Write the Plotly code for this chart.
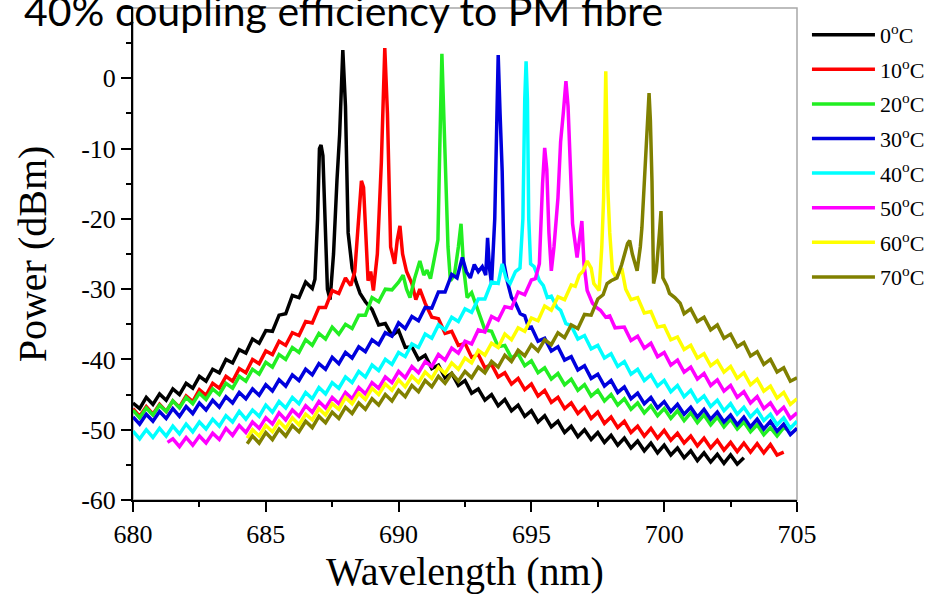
import plotly.graph_objects as go

# ---------------- data (wavelength nm, power dBm) ----------------
names = ["0<sup>o</sup>C", "10<sup>o</sup>C", "20<sup>o</sup>C", "30<sup>o</sup>C",
         "40<sup>o</sup>C", "50<sup>o</sup>C", "60<sup>o</sup>C", "70<sup>o</sup>C"]

t00 = [(680.0,-46.2),(680.25,-47.0),(680.5,-45.4),(680.75,-46.4),(681.0,-44.9),(681.25,-45.8),(681.5,-44.2),(681.75,-45.0),
       (682.0,-43.4),(682.25,-44.1),(682.5,-42.4),(682.75,-43.1),(683.0,-41.4),(683.25,-41.9),(683.5,-40.0),(683.75,-40.5),
       (684.0,-38.6),(684.25,-39.1),(684.5,-37.1),(684.75,-37.7),(685.0,-35.9),(685.25,-36.0),(685.5,-33.7),(685.75,-33.5),
       (686.0,-30.9),(686.25,-31.2),(686.5,-29.0),(686.75,-29.9),(686.85,-28.6),(686.95,-20.0),(687.02,-10.0),(687.08,-9.5),
       (687.15,-11.0),(687.22,-19.0),(687.32,-30.0),(687.42,-31.5),(687.55,-25.0),(687.68,-14.5),(687.78,-8.0),(687.9,4.0),
       (688.0,-4.0),(688.1,-22.0),(688.25,-27.0),(688.4,-29.0),(688.55,-30.6),(688.75,-31.8),(689.0,-32.9),(689.25,-35.1),
       (689.5,-34.9),(689.75,-36.6),(690.0,-35.9),(690.25,-38.3),(690.5,-38.2),(690.75,-40.0),(691.0,-39.4),(691.25,-41.3),
       (691.5,-40.8),(691.75,-42.6),(692.0,-42.0),(692.25,-43.7),(692.5,-43.0),(692.75,-44.8),(693.0,-44.2),(693.25,-45.8),
       (693.5,-45.0),(693.75,-46.6),(694.0,-45.7),(694.25,-47.3),(694.5,-46.5),(694.75,-48.1),(695.0,-47.3),(695.25,-48.9),
       (695.5,-48.0),(695.75,-49.6),(696.0,-48.8),(696.25,-50.4),(696.5,-49.5),(696.75,-51.0),(697.0,-50.0),(697.25,-51.4),
       (697.5,-50.4),(697.75,-51.8),(698.0,-50.8),(698.25,-52.2),(698.5,-51.2),(698.75,-52.6),(699.0,-51.6),(699.25,-53.0),
       (699.5,-51.9),(699.75,-53.3),(700.0,-52.2),(700.25,-53.6),(700.5,-52.6),(700.75,-54.0),(701.0,-53.0),(701.25,-54.4),
       (701.5,-53.3),(701.75,-54.6),(702.0,-53.5),(702.25,-54.8),(702.5,-53.6),(702.75,-54.9),(703.0,-54.0)]

t10 = [(680.0,-47.0),(680.25,-48.1),(680.5,-46.7),(680.75,-47.8),(681.0,-46.4),(681.25,-47.4),(681.5,-45.9),(681.75,-46.8),
       (682.0,-45.2),(682.25,-46.0),(682.5,-44.3),(682.75,-45.1),(683.0,-43.4),(683.25,-44.1),(683.5,-42.4),(683.75,-43.1),
       (684.0,-41.3),(684.25,-41.9),(684.5,-40.0),(684.75,-40.6),(685.0,-38.8),(685.25,-39.3),(685.5,-37.4),(685.75,-38.0),
       (686.0,-36.2),(686.25,-36.6),(686.5,-34.6),(686.75,-34.8),(687.0,-32.6),(687.25,-32.6),(687.5,-30.2),(687.75,-30.6),
       (688.0,-28.4),(688.2,-29.5),(688.35,-27.5),(688.5,-20.0),(688.6,-14.6),(688.68,-15.5),(688.75,-22.0),(688.85,-28.8),
       (688.95,-27.5),(689.05,-30.2),(689.2,-25.0),(689.35,-12.0),(689.48,4.3),(689.58,-5.0),(689.7,-24.0),(689.85,-26.4),
       (689.95,-23.0),(690.05,-21.0),(690.15,-25.0),(690.3,-27.5),(690.5,-29.2),(690.65,-31.5),(690.8,-30.0),(691.0,-32.0),
       (691.25,-34.0),(691.5,-34.2),(691.75,-36.3),(692.0,-36.0),(692.25,-38.0),(692.5,-37.7),(692.75,-39.7),(693.0,-39.3),
       (693.25,-41.2),(693.5,-40.7),(693.75,-42.5),(694.0,-41.9),(694.25,-43.5),(694.5,-42.7),(694.75,-44.3),(695.0,-43.5),
       (695.25,-45.2),(695.5,-44.4),(695.75,-46.1),(696.0,-45.4),(696.25,-47.0),(696.5,-46.2),(696.75,-47.7),(697.0,-46.8),
       (697.25,-48.4),(697.5,-47.5),(697.75,-49.1),(698.0,-48.2),(698.25,-49.7),(698.5,-48.8),(698.75,-50.4),(699.0,-49.5),
       (699.25,-50.9),(699.5,-49.8),(699.75,-51.2),(700.0,-50.1),(700.25,-51.5),(700.5,-50.5),(700.75,-51.9),(701.0,-50.9),
       (701.25,-52.3),(701.5,-51.2),(701.75,-52.6),(702.0,-51.5),(702.25,-52.9),(702.5,-51.8),(702.75,-53.1),(703.0,-51.9),
       (703.25,-53.2),(703.5,-52.0),(703.75,-53.3),(704.0,-52.1),(704.25,-53.6),(704.5,-53.2)]

t20 = [(680.0,-47.2),(680.25,-48.3),(680.5,-46.9),(680.75,-47.9),(681.0,-46.5),(681.25,-47.4),(681.5,-45.9),(681.75,-46.9),
       (682.0,-45.4),(682.25,-46.3),(682.5,-44.8),(682.75,-45.7),(683.0,-44.2),(683.25,-45.0),(683.5,-43.4),(683.75,-44.1),
       (684.0,-42.4),(684.25,-43.1),(684.5,-41.4),(684.75,-42.1),(685.0,-40.4),(685.25,-41.1),(685.5,-39.3),(685.75,-40.0),
       (686.0,-38.3),(686.25,-39.0),(686.5,-37.2),(686.75,-38.0),(687.0,-36.3),(687.25,-37.1),(687.5,-35.4),(687.75,-36.4),
       (688.0,-35.0),(688.25,-35.6),(688.5,-33.7),(688.75,-33.7),(689.0,-31.2),(689.25,-31.8),(689.5,-30.0),(689.75,-30.1),
       (690.0,-29.0),(690.17,-28.0),(690.3,-30.0),(690.43,-31.2),(690.6,-28.5),(690.8,-26.0),(690.95,-28.0),(691.07,-27.3),
       (691.2,-28.5),(691.37,-25.0),(691.48,-23.0),(691.55,-10.0),(691.63,3.5),(691.7,-5.0),(691.78,-15.6),(691.86,-24.0),
       (691.95,-28.8),(692.1,-28.0),(692.25,-24.0),(692.35,-20.7),(692.45,-27.0),(692.58,-31.2),(692.75,-30.5),(692.95,-32.5),
       (693.25,-35.8),(693.5,-36.0),(693.75,-38.2),(694.0,-38.0),(694.25,-39.8),(694.5,-39.2),(694.75,-40.9),(695.0,-40.2),
       (695.25,-41.9),(695.5,-41.2),(695.75,-42.8),(696.0,-42.0),(696.25,-43.6),(696.5,-42.8),(696.75,-44.4),(697.0,-43.6),
       (697.25,-45.2),(697.5,-44.4),(697.75,-45.9),(698.0,-45.0),(698.25,-46.5),(698.5,-45.6),(698.75,-47.1),(699.0,-46.2),
       (699.25,-47.6),(699.5,-46.6),(699.75,-48.0),(700.0,-47.0),(700.25,-48.4),(700.5,-47.3),(700.75,-48.7),(701.0,-47.6),
       (701.25,-49.0),(701.5,-47.9),(701.75,-49.3),(702.0,-48.2),(702.25,-49.6),(702.5,-48.5),(702.75,-49.9),(703.0,-48.9),
       (703.25,-50.3),(703.5,-49.3),(703.75,-50.7),(704.0,-49.7),(704.25,-50.9),(704.5,-49.7),(704.7,-50.1)]

t30 = [(680.0,-48.2),(680.25,-49.2),(680.5,-47.8),(680.75,-48.8),(681.0,-47.4),(681.25,-48.4),(681.5,-47.0),(681.75,-48.1),
       (682.0,-46.7),(682.25,-47.7),(682.5,-46.2),(682.75,-47.2),(683.0,-45.8),(683.25,-46.8),(683.5,-45.3),(683.75,-46.2),
       (684.0,-44.7),(684.25,-45.6),(684.5,-44.2),(684.75,-45.1),(685.0,-43.6),(685.25,-44.5),(685.5,-42.9),(685.75,-43.8),
       (686.0,-42.2),(686.25,-43.0),(686.5,-41.4),(686.75,-42.2),(687.0,-40.6),(687.25,-41.4),(687.5,-39.7),(687.75,-40.6),
       (688.0,-39.0),(688.25,-39.8),(688.5,-38.2),(688.75,-38.9),(689.0,-37.2),(689.25,-37.9),(689.5,-36.2),(689.75,-36.7),
       (690.0,-34.8),(690.25,-35.6),(690.5,-33.9),(690.75,-34.5),(691.0,-32.6),(691.25,-32.7),(691.5,-30.4),(691.75,-30.4),
       (692.0,-27.9),(692.2,-28.4),(692.4,-25.5),(692.55,-27.5),(692.7,-28.4),(692.85,-26.5),(693.0,-27.5),(693.15,-26.8),
       (693.28,-28.0),(693.35,-22.7),(693.42,-27.0),(693.5,-29.2),(693.62,-20.0),(693.7,-5.0),(693.75,3.3),(693.82,-5.0),
       (693.9,-13.2),(693.97,-26.4),(694.1,-29.0),(694.25,-31.2),(694.4,-32.0),(694.58,-33.5),(694.75,-33.8),(694.9,-35.5),
       (695.0,-35.4),(695.25,-37.4),(695.5,-37.0),(695.75,-38.8),(696.0,-38.2),(696.25,-40.1),(696.5,-39.6),(696.75,-41.5),
       (697.0,-40.9),(697.25,-42.7),(697.5,-42.1),(697.75,-43.8),(698.0,-43.0),(698.25,-44.7),(698.5,-43.9),(698.75,-45.6),
       (699.0,-44.8),(699.25,-46.3),(699.5,-45.4),(699.75,-46.9),(700.0,-46.0),(700.25,-47.4),(700.5,-46.4),(700.75,-47.8),
       (701.0,-46.8),(701.25,-48.2),(701.5,-47.1),(701.75,-48.5),(702.0,-47.5),(702.25,-48.9),(702.5,-47.9),(702.75,-49.3),
       (703.0,-48.2),(703.25,-49.6),(703.5,-48.5),(703.75,-49.9),(704.0,-48.8),(704.25,-50.2),(704.5,-49.2),(704.75,-50.7),
       (705.0,-49.8)]

t40 = [(680.0,-50.2),(680.25,-51.3),(680.5,-50.0),(680.75,-51.1),(681.0,-49.8),(681.25,-50.9),(681.5,-49.5),(681.75,-50.6),
       (682.0,-49.2),(682.25,-50.3),(682.5,-48.9),(682.75,-49.9),(683.0,-48.5),(683.25,-49.5),(683.5,-48.0),(683.75,-48.9),
       (684.0,-47.4),(684.25,-48.5),(684.5,-47.2),(684.75,-48.1),(685.0,-46.5),(685.25,-47.5),(685.5,-46.0),(685.75,-46.9),
       (686.0,-45.4),(686.25,-46.3),(686.5,-44.7),(686.75,-45.6),(687.0,-44.0),(687.25,-44.9),(687.5,-43.3),(687.75,-44.1),
       (688.0,-42.5),(688.25,-43.3),(688.5,-41.7),(688.75,-42.5),(689.0,-40.8),(689.25,-41.6),(689.5,-40.0),(689.75,-40.7),
       (690.0,-39.0),(690.25,-39.6),(690.5,-37.8),(690.75,-38.3),(691.0,-36.4),(691.25,-37.0),(691.5,-35.1),(691.75,-35.8),
       (692.0,-34.0),(692.25,-34.6),(692.5,-32.8),(692.75,-33.3),(693.0,-31.4),(693.25,-31.4),(693.5,-29.0),(693.75,-29.2),
       (693.9,-26.4),(694.05,-28.5),(694.2,-29.2),(694.4,-27.5),(694.57,-27.0),(694.68,-20.0),(694.75,-3.0),(694.8,2.4),
       (694.85,-3.0),(694.9,-20.0),(694.97,-26.4),(695.1,-26.8),(695.3,-28.8),(695.45,-29.5),(695.6,-31.2),(695.75,-31.0),
       (695.96,-32.6),(696.1,-33.0),(696.3,-34.9),(696.5,-35.2),(696.75,-37.1),(697.0,-36.6),(697.25,-38.5),(697.5,-38.0),
       (697.75,-39.8),(698.0,-39.2),(698.25,-41.0),(698.5,-40.3),(698.75,-42.1),(699.0,-41.4),(699.25,-43.0),(699.5,-42.2),
       (699.75,-43.8),(700.0,-43.0),(700.25,-44.6),(700.5,-43.7),(700.75,-45.3),(701.0,-44.4),(701.25,-46.0),(701.5,-45.2),
       (701.75,-46.7),(702.0,-45.8),(702.25,-47.3),(702.5,-46.3),(702.75,-47.8),(703.0,-46.8),(703.25,-48.2),(703.5,-47.2),
       (703.75,-48.7),(704.0,-47.8),(704.25,-49.3),(704.5,-48.3),(704.75,-49.8),(705.0,-48.8)]

t50 = [(681.3,-51.8),(681.5,-51.3),(681.75,-52.4),(682.0,-51.1),(682.25,-52.2),(682.5,-50.9),(682.75,-51.9),(683.0,-50.5),
       (683.25,-51.4),(683.5,-49.8),(683.75,-50.8),(684.0,-49.4),(684.25,-50.4),(684.5,-48.9),(684.75,-49.8),(685.0,-48.3),
       (685.25,-49.2),(685.5,-47.6),(685.75,-48.6),(686.0,-47.2),(686.25,-48.1),(686.5,-46.6),(686.75,-47.5),(687.0,-46.0),
       (687.25,-46.9),(687.5,-45.4),(687.75,-46.3),(688.0,-44.7),(688.25,-45.6),(688.5,-44.0),(688.75,-44.9),(689.0,-43.3),
       (689.25,-44.1),(689.5,-42.5),(689.75,-43.3),(690.0,-41.7),(690.25,-42.6),(690.5,-41.0),(690.75,-41.9),(691.0,-40.3),
       (691.25,-41.0),(691.5,-39.3),(691.75,-40.1),(692.0,-38.4),(692.25,-39.1),(692.5,-37.4),(692.75,-37.8),(693.0,-35.8),
       (693.25,-36.1),(693.5,-33.9),(693.75,-34.4),(694.0,-32.5),(694.25,-32.7),(694.5,-30.4),(694.75,-30.8),(695.0,-28.7),
       (695.15,-28.5),(695.3,-26.4),(695.42,-15.0),(695.5,-9.9),(695.58,-13.0),(695.66,-22.0),(695.75,-27.4),(695.85,-24.0),
       (696.0,-17.0),(696.1,-9.0),(696.2,-5.0),(696.3,-0.4),(696.38,-4.0),(696.45,-12.2),(696.55,-20.7),(696.72,-25.5),
       (696.82,-23.0),(696.9,-20.3),(696.98,-26.4),(697.1,-30.2),(697.3,-32.0),(697.45,-32.6),(697.6,-33.0),(697.8,-34.0),
       (697.95,-33.8),(698.15,-35.5),(698.5,-35.4),(698.75,-37.3),(699.0,-36.7),(699.25,-38.4),(699.5,-37.7),(699.75,-39.6),
       (700.0,-39.0),(700.25,-40.8),(700.5,-40.1),(700.75,-41.8),(701.0,-41.1),(701.25,-42.8),(701.5,-42.0),(701.75,-43.7),
       (702.0,-42.9),(702.25,-44.5),(702.5,-43.7),(702.75,-45.4),(703.0,-44.6),(703.25,-46.2),(703.5,-45.3),(703.75,-47.0),
       (704.0,-46.2),(704.25,-47.7),(704.5,-46.8),(704.75,-48.4),(705.0,-47.6)]

t60 = [(684.3,-51.2),(684.5,-50.0),(684.75,-50.9),(685.0,-49.4),(685.25,-50.3),(685.5,-48.8),(685.75,-49.8),(686.0,-48.3),
       (686.25,-49.3),(686.5,-47.8),(686.75,-48.6),(687.0,-47.0),(687.25,-47.9),(687.5,-46.3),(687.75,-47.1),(688.0,-45.4),
       (688.25,-46.3),(688.5,-44.8),(688.75,-45.7),(689.0,-44.1),(689.25,-45.0),(689.5,-43.5),(689.75,-44.4),(690.0,-42.9),
       (690.25,-43.9),(690.5,-42.4),(690.75,-43.3),(691.0,-41.8),(691.25,-42.7),(691.5,-41.1),(691.75,-42.0),(692.0,-40.5),
       (692.25,-41.4),(692.5,-39.8),(692.75,-40.5),(693.0,-38.7),(693.25,-39.4),(693.5,-37.7),(693.75,-38.3),(694.0,-36.4),
       (694.25,-37.2),(694.5,-35.5),(694.75,-36.0),(695.0,-34.1),(695.25,-34.5),(695.5,-32.4),(695.75,-33.0),(696.0,-31.1),
       (696.25,-31.5),(696.5,-29.4),(696.65,-29.6),(696.8,-28.0),(696.95,-27.4),(697.1,-26.0),(697.25,-27.0),(697.35,-29.2),
       (697.55,-30.2),(697.65,-24.0),(697.72,-17.0),(697.8,1.0),(697.88,-16.0),(697.95,-22.0),(698.05,-27.4),(698.2,-28.4),
       (698.4,-27.0),(698.55,-30.0),(698.75,-31.5),(699.0,-31.2),(699.25,-33.4),(699.5,-33.2),(699.75,-35.4),(700.0,-35.2),
       (700.25,-37.2),(700.5,-36.8),(700.75,-38.6),(701.0,-38.0),(701.25,-39.8),(701.5,-39.2),(701.75,-40.9),(702.0,-40.2),
       (702.25,-41.8),(702.5,-41.0),(702.75,-42.7),(703.0,-41.9),(703.25,-43.6),(703.5,-42.8),(703.75,-44.5),(704.0,-43.8),
       (704.25,-45.5),(704.5,-44.7),(704.75,-46.4),(705.0,-45.6)]

t70 = [(684.3,-52.0),(684.5,-50.9),(684.75,-51.9),(685.0,-50.4),(685.25,-51.4),(685.5,-49.9),(685.75,-50.9),(686.0,-49.4),
       (686.25,-50.3),(686.5,-48.8),(686.75,-49.7),(687.0,-48.1),(687.25,-49.0),(687.5,-47.5),(687.75,-48.4),(688.0,-46.8),
       (688.25,-47.7),(688.5,-46.2),(688.75,-47.1),(689.0,-45.6),(689.25,-46.5),(689.5,-45.0),(689.75,-45.9),(690.0,-44.4),
       (690.25,-45.3),(690.5,-43.7),(690.75,-44.6),(691.0,-43.0),(691.25,-43.9),(691.5,-42.4),(691.75,-43.4),(692.0,-42.0),
       (692.25,-43.1),(692.5,-41.7),(692.75,-42.6),(693.0,-41.1),(693.25,-41.9),(693.5,-40.3),(693.75,-41.1),(694.0,-39.4),
       (694.25,-40.3),(694.5,-38.7),(694.75,-39.5),(695.0,-37.9),(695.25,-38.8),(695.5,-37.2),(695.75,-37.9),(696.0,-36.2),
       (696.25,-36.9),(696.5,-35.1),(696.75,-35.6),(697.0,-33.6),(697.25,-33.7),(697.5,-31.4),(697.7,-30.8),(697.85,-29.2),
       (698.0,-28.8),(698.22,-28.4),(698.4,-26.5),(698.5,-25.0),(698.62,-23.5),(698.7,-23.1),(698.8,-25.0),(698.98,-27.4),
       (699.1,-24.0),(699.16,-21.3),(699.28,-13.2),(699.38,-5.0),(699.43,-2.1),(699.48,-6.0),(699.54,-14.6),(699.6,-29.2),
       (699.7,-27.5),(699.82,-22.0),(699.88,-18.9),(699.95,-28.4),(700.1,-29.5),(700.2,-30.6),(700.4,-31.2),(700.6,-32.0),
       (700.75,-33.5),(701.0,-32.8),(701.25,-34.6),(701.5,-34.0),(701.75,-35.8),(702.0,-35.1),(702.25,-37.0),(702.5,-36.4),
       (702.75,-38.2),(703.0,-37.6),(703.25,-39.5),(703.5,-38.9),(703.75,-40.7),(704.0,-40.0),(704.25,-41.8),(704.5,-41.2),
       (704.75,-43.1),(705.0,-42.6)]

x_tick_vals = [680, 685, 690, 695, 700, 705]
x_tick_text = ["680", "685", "690", "695", "700", "705"]
y_tick_vals = [10, 0, -10, -20, -30, -40, -50, -60]
y_tick_text = ["10", "0", "-10", "-20", "-30", "-40", "-50", "-60"]

# ---------------- style ----------------
colors = ["#000000", "#ff0000", "#22ee22", "#0000dd", "#00ffff", "#ff00ff", "#ffff00", "#808000"]
SERIF = "Liberation Serif"

fig = go.Figure()
for name, color, pairs in zip(names, colors, [t00, t10, t20, t30, t40, t50, t60, t70]):
    fig.add_trace(go.Scatter(
        x=[p[0] for p in pairs], y=[p[1] for p in pairs], mode="lines", name=name,
        legendgroup=name, line=dict(color=color, width=3.5)))

fig.update_layout(
    width=927, height=594,
    margin=dict(l=133, r=130, t=8, b=94, autoexpand=False),
    paper_bgcolor="white", plot_bgcolor="white",
    font=dict(family=SERIF, color="black"),
    xaxis=dict(range=[680, 705], tickmode="array", tickvals=x_tick_vals, ticktext=x_tick_text,
               showgrid=False, zeroline=False, showline=True, linecolor="black", linewidth=2,
               ticks="outside", ticklen=10, tickwidth=1.5, tickcolor="black",
               tickfont=dict(family=SERIF, size=26, color="black"),
               minor=dict(dtick=2.5, tick0=680, ticks="outside", ticklen=5, tickcolor="black", tickwidth=1.5),
               title=dict(text="Wavelength (nm)", font=dict(family=SERIF, size=40, color="black"), standoff=19)),
    yaxis=dict(range=[-60, 10], tickmode="array", tickvals=y_tick_vals, ticktext=y_tick_text,
               showgrid=False, zeroline=False, showline=True, linecolor="black", linewidth=2,
               ticks="outside", ticklen=10, tickwidth=1.5, tickcolor="black",
               tickfont=dict(family=SERIF, size=26, color="black"),
               minor=dict(dtick=5, tick0=0, ticks="outside", ticklen=5, tickcolor="black", tickwidth=1.5),
               title=dict(text="Power (dBm)", font=dict(family=SERIF, size=40, color="black"), standoff=22)),
    showlegend=True,
    legend=dict(x=1.015, xanchor="left", y=0.988, yanchor="top", bgcolor="rgba(0,0,0,0)",
                font=dict(family=SERIF, size=22, color="black"), tracegroupgap=3, itemwidth=63,
                traceorder="grouped"),
    shapes=[dict(type="rect", xref="paper", yref="paper", x0=0, x1=1, y0=0, y1=1,
                 line=dict(color="#a8a8a8", width=1.5), layer="below")],
    annotations=[dict(text="40% coupling efficiency to PM fibre", xref="paper", yref="paper",
                      x=-0.167, xanchor="left", y=0.994, yanchor="middle", showarrow=False,
                      font=dict(family="Lato", size=41, color="black"))],
)

fig.write_html("out.html")
